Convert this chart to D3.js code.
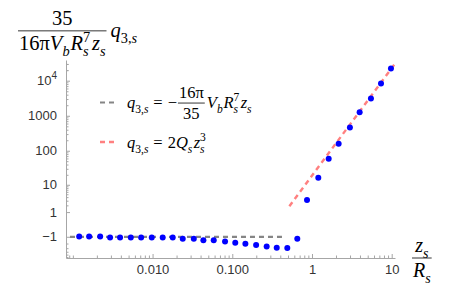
<!DOCTYPE html>
<html><head><meta charset="utf-8">
<script src="https://cdn.jsdelivr.net/npm/d3@7/dist/d3.min.js"></script>
<style>
html,body{margin:0;padding:0;background:#fff;}
svg{display:block;}
</style>
</head><body>
<svg id="chart" width="450" height="293"></svg>
<script>
// ---- data ----
const xVals = [0.00120,0.00160,0.00220,0.00293,0.00391,0.00533,0.00718,0.00977,0.0134,0.0179,0.0239,0.0329,0.0434,0.0585,0.0811,0.109,0.146,0.199,0.270,0.361,0.490,0.654,0.866,1.20,1.62,2.16,2.99,3.96,5.49,7.34,9.79];
const yVals = [-0.96,-0.96,-0.96,-1.10,-1.10,-1.10,-1.10,-1.10,-1.10,-1.10,-1.25,-1.25,-1.45,-1.45,-1.65,-1.85,-2.03,-2.28,-2.60,-2.88,-2.95,-1.24,3.19,16.4,59.2,160,459,1267,3088,8273,22160];
const grayX = [0.00092, 0.42];
const grayY = [-1, -1];
const redX = [0.52, 11.0];
const redY = [1.85, 30500];
const xMajor = [0.01, 0.1, 1, 10];
const xMajorLabels = ["0.010", "0.100", "1", "10"];
const yMajor = [-1, 1, 10, 100, 1000, 10000];
const yMajorLabels = ["\u22121", "1", "10", "100", "1000", "10^4"];

// ---- scales ----
const svg = d3.select("#chart");
const x = d3.scaleLog().domain([0.00082, 11]).range([66, 395]);
const y = d3.scaleSymlog().constant(0.8).domain([-6.44, 38900]).range([258, 60]);

const axisColor = "#a6a6a6";
const serif = "'Liberation Serif', 'Times New Roman', serif";
const sans = "'Liberation Sans', Arial, sans-serif";

// minor ticks
const xMinor = [];
for (let e = -4; e <= 1; e++) for (let k = 1; k <= 9; k++) {
  const v = k * Math.pow(10, e);
  if (v >= 0.00082 && v <= 11 && !xMajor.includes(+v.toPrecision(3))) xMinor.push(v);
}
const yMinor = [];
for (let e = 0; e <= 4; e++) for (let k = 2; k <= 9; k++) {
  const v = k * Math.pow(10, e);
  if (v <= 38900) yMinor.push(v);
}
yMinor.push(20000, 30000);
[-2, -3, -4, -5, -6].forEach(v => yMinor.push(v));

// axes
const xAxis = d3.axisBottom(x).tickValues(xMajor).tickSize(-4).tickSizeOuter(0).tickFormat((d, i) => xMajorLabels[i]);
const gx = svg.append("g").attr("transform", `translate(0,${y(-6.44)})`).call(xAxis);
gx.select(".domain").attr("stroke", axisColor);
gx.selectAll(".tick line").attr("stroke", axisColor);
gx.selectAll(".tick text").attr("font-family", sans).attr("font-size", 13).attr("fill", "#333").attr("dy", "1.0em").attr("y", 3);
const xMinorAxis = d3.axisBottom(x).tickValues(xMinor).tickSize(-2.5).tickSizeOuter(0).tickFormat("");
const gxm = svg.append("g").attr("transform", `translate(0,${y(-6.44)})`).call(xMinorAxis);
gxm.select(".domain").remove();
gxm.selectAll(".tick line").attr("stroke", axisColor);

const yAxis = d3.axisLeft(y).tickValues(yMajor).tickSize(-4).tickSizeOuter(0).tickFormat("");
const gy = svg.append("g").attr("transform", `translate(${x(0.00082)},0)`).call(yAxis);
gy.select(".domain").attr("stroke", axisColor);
gy.selectAll(".tick line").attr("stroke", axisColor);
const yMinorAxis = d3.axisLeft(y).tickValues(yMinor).tickSize(-2.5).tickSizeOuter(0).tickFormat("");
const gym = svg.append("g").attr("transform", `translate(${x(0.00082)},0)`).call(yMinorAxis);
gym.select(".domain").remove();
gym.selectAll(".tick line").attr("stroke", axisColor);

// y tick labels (with superscript for 10^4)
yMajor.forEach((v, i) => {
  const lab = yMajorLabels[i];
  const t = svg.append("text").attr("x", x(0.00082) - 9).attr("y", y(v) + 4.5)
    .attr("text-anchor", "end").attr("font-family", sans).attr("font-size", 13).attr("fill", "#333");
  if (lab.includes("^")) {
    const [b, p] = lab.split("^");
    t.append("tspan").text(b);
    t.append("tspan").attr("dy", -6).attr("font-size", 10).text(p);
  } else t.text(lab);
});

// ---- reference lines ----
const line = d3.line().x(d => x(d[0])).y(d => y(d[1]));
svg.append("path").datum(grayX.map((v, i) => [v, grayY[i]]))
  .attr("d", line).attr("fill", "none").attr("stroke", "#858585").attr("stroke-width", 2.2).attr("stroke-dasharray", "5,4");
svg.append("path").datum(redX.map((v, i) => [v, redY[i]]))
  .attr("d", line).attr("fill", "none").attr("stroke", "#ff8080").attr("stroke-width", 2.4).attr("stroke-dasharray", "5,4");

// ---- points ----
svg.append("g").selectAll("circle").data(xVals).join("circle")
  .attr("cx", d => x(d)).attr("cy", (d, i) => y(yVals[i])).attr("r", 3).attr("fill", "#0000ff");

// ---- math text helpers ----
function measure(g, p, fs) {
  const tmp = g.append("text").attr("font-family", serif).attr("font-size", (p.sc || 1) * fs)
    .attr("font-style", p.i ? "italic" : "normal").text(p.t);
  const w = tmp.node().getComputedTextLength(); tmp.remove();
  return w;
}
// one <text> element per word; stacked sub/sup handled with dx inside the same element
function word(g, xp, parts, fs) {
  const t = g.append("text").attr("x", xp).attr("y", 0).attr("font-family", serif).attr("fill", "#000");
  let cur = 0, w = 0, pending = 0, prevW = 0;
  parts.forEach(p => {
    const pw = measure(g, p, fs);
    const s = t.append("tspan").attr("font-size", (p.sc || 1) * fs)
      .attr("font-style", p.i ? "italic" : "normal").text(p.t);
    const dyWanted = (p.dy || 0) * fs;
    s.attr("dy", dyWanted - cur); cur = dyWanted;
    let dx = 0;
    if (p.stackSup) {
      dx = -prevW;
      w += Math.max(0, pw - prevW);
      pending = Math.max(0, prevW - pw);
    } else {
      dx = pending + (p.gap ? p.gap * fs : 0);
      w += pw + dx;
      pending = 0;
    }
    if (dx) s.attr("dx", dx);
    prevW = pw;
  });
  return w;
}
function layout(g, items, fs) {
  let xp = 0;
  for (const it of items) {
    if (it.gap !== undefined) { xp += it.gap * fs; continue; }
    if (it.frac) { xp += frac(g, xp, it.num, it.den, fs); continue; }
    if (it.w) xp += word(g, xp, it.w, fs);
  }
  return xp;
}
function frac(g, x0, num, den, fs) {
  const gn = g.append("g"), gd = g.append("g");
  const wn = layout(gn, num, fs), wd = layout(gd, den, fs);
  const W = Math.max(wn, wd) + 4;
  const axisY = -0.3 * fs;
  gn.attr("transform", `translate(${x0 + (W - wn) / 2},${axisY - 0.3 * fs})`);
  gd.attr("transform", `translate(${x0 + (W - wd) / 2},${axisY + 0.95 * fs})`);
  g.append("line").attr("x1", x0 + 1).attr("x2", x0 + W - 1).attr("y1", axisY).attr("y2", axisY)
    .attr("stroke", "#000").attr("stroke-width", 0.8);
  return W + 1;
}
const SUB = 0.3, SUP = -0.4, SC = 0.7;
const sub = (t, i = true) => ({t, i, sc: SC, dy: SUB});
const supS = (t) => ({t, sc: SC, dy: SUP, stackSup: true});
const q3s = {w: [{t: "q", i: true}, {t: "3,", sc: SC, dy: SUB}, sub("s")]};
const VbRs7zsParts = [{t: "V", i: true}, sub("b"), {t: "R", i: true, gap: 0.05}, sub("s"), supS("7"),
  {t: "z", i: true, gap: 0.08}, sub("s")];

// y-axis title
const gt = svg.append("g").attr("transform", "translate(17,37)");
layout(gt, [{frac: true, num: [{w: [{t: "35"}]}], den: [{w: [{t: "16\u03c0"}].concat(VbRs7zsParts)}]},
  {gap: 0.1}, q3s], 20.5);

// legend
svg.append("line").attr("x1", 100).attr("x2", 117).attr("y1", 102.5).attr("y2", 102.5)
  .attr("stroke", "#858585").attr("stroke-width", 2.2).attr("stroke-dasharray", "5,4");
svg.append("line").attr("x1", 100).attr("x2", 117).attr("y1", 142).attr("y2", 142)
  .attr("stroke", "#ff8080").attr("stroke-width", 2.4).attr("stroke-dasharray", "5,4");
const gl1 = svg.append("g").attr("transform", "translate(127,108)");
layout(gl1, [q3s, {gap: 0.3}, {w: [{t: "="}]}, {gap: 0.3}, {w: [{t: "\u2212"}]},
  {frac: true, num: [{w: [{t: "16\u03c0"}]}], den: [{w: [{t: "35"}]}]}, {w: VbRs7zsParts}], 16.5);
const gl2 = svg.append("g").attr("transform", "translate(127,148)");
layout(gl2, [q3s, {gap: 0.3}, {w: [{t: "="}]}, {gap: 0.3},
  {w: [{t: "2"}, {t: "Q", i: true}, sub("s"), {t: "z", i: true, gap: 0.08}, sub("s"), supS("3")]}], 16.5);

// x-axis title
const gxt = svg.append("g").attr("transform", "translate(411,264)");
layout(gxt, [{frac: true, num: [{w: [{t: "z", i: true}, sub("s")]}],
  den: [{w: [{t: "R", i: true}, sub("s")]}]}], 20);
</script>
</body></html>
